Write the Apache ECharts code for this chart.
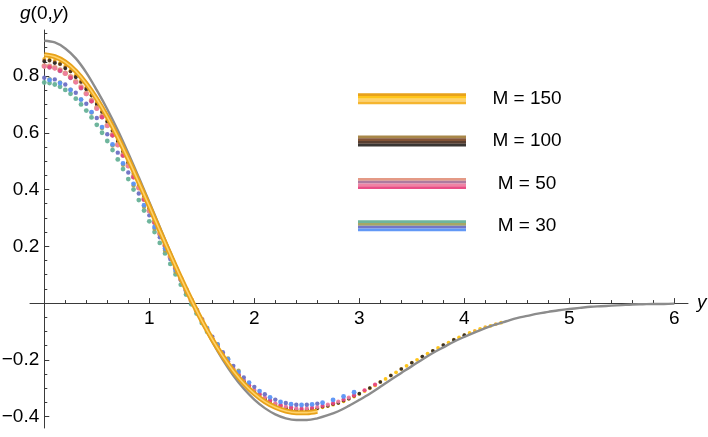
<!DOCTYPE html>
<html>
<head>
<meta charset="utf-8">
<script src="https://cdn.jsdelivr.net/npm/echarts@6/dist/echarts.min.js"></script>
<style>
  html, body { margin: 0; padding: 0; background: #fff; }
  #chart { width: 708px; height: 437px; }
</style>
</head>
<body>
<div id="chart"></div>
<script>
// x positions (y in the plot) used by the sampled curves
var xTenths = [0,0.1,0.2,0.3,0.4,0.5,0.6,0.7,0.8,0.9,1,1.1,1.2,1.3,1.4,1.5,1.6,1.7,1.8,1.9,2,2.1,2.2,2.3,2.4,2.5,2.6,2.7,2.8,2.9,3,3.1,3.2,3.3,3.4,3.5,3.6,3.7,3.8,3.9,4,4.1,4.2,4.3,4.4,4.5,4.6,4.7,4.8,4.9,5,5.1,5.2,5.3,5.4,5.5,5.6,5.7,5.8,5.9,6];
var xOffTenths = [0.05,0.15,0.25,0.35,0.45,0.55,0.65,0.75,0.85,0.95,1.05,1.15,1.25,1.35,1.45,1.55,1.65,1.75,1.85,1.95,2.05,2.15,2.25,2.35,2.45,2.55,2.65,2.75,2.85,2.95,3.05,3.15,3.25,3.35,3.45,3.55,3.65,3.75,3.85,3.95,4.05,4.15,4.25,4.35];
var xTwentieths = [0,0.05,0.1,0.15,0.2,0.25,0.3,0.35,0.4,0.45,0.5,0.55,0.6,0.65,0.7,0.75,0.8,0.85,0.9,0.95,1,1.05,1.1,1.15,1.2,1.25,1.3,1.35,1.4,1.45,1.5,1.55];

// continuum curve (gray)
var grayY = [0.924,0.918,0.897,0.862,0.812,0.750,0.683,0.609,0.528,0.443,0.356,0.268,0.180,0.094,0.011,-0.066,-0.137,-0.200,-0.255,-0.302,-0.340,-0.370,-0.392,-0.406,-0.412,-0.412,-0.406,-0.395,-0.381,-0.362,-0.341,-0.319,-0.295,-0.270,-0.246,-0.222,-0.199,-0.176,-0.156,-0.136,-0.119,-0.103,-0.088,-0.075,-0.064,-0.053,-0.045,-0.037,-0.031,-0.025,-0.021,-0.017,-0.013,-0.011,-0.009,-0.007,-0.005,-0.004,-0.003,-0.003,-0.002];

// M = 150
var m150Band = [0.875,0.868,0.849,0.817,0.773,0.719,0.656,0.585,0.507,0.425,0.341,0.255,0.171,0.089,0.011,-0.062,-0.128,-0.187,-0.239,-0.283,-0.319,-0.347,-0.367,-0.380,-0.386,-0.386,-0.381];
var m150Yellow = [0.859,0.846,0.820,0.783,0.735,0.677,0.611,0.537,0.459,0.377,0.293,0.209,0.127,0.048,-0.026,-0.093,-0.155,-0.209,-0.256,-0.295,-0.326,-0.349,-0.366,-0.375,-0.378,-0.375,-0.367,-0.358,-0.346,-0.329,-0.310,-0.290,-0.267,-0.244,-0.221,-0.200,-0.178,-0.158,-0.139,-0.121,-0.105,-0.091,-0.080,-0.069];
var m150Orange = [0.860,0.854,0.835,0.803,0.760,0.707,0.645,0.575,0.498,0.418,0.335,0.251,0.168,0.087,0.011,-0.060,-0.125,-0.183,-0.233,-0.276,-0.311,-0.339,-0.358,-0.371,-0.377,-0.377,-0.372,-0.363,-0.352,-0.337,-0.320,-0.300,-0.278,-0.255,-0.232,-0.210,-0.189,-0.168,-0.148,-0.129,-0.113,-0.098,-0.085,-0.074];

// M = 100
var m100Olive = [0.854,0.841,0.816,0.779,0.731,0.673,0.607,0.534,0.456,0.375,0.291,0.208,0.127,0.048,-0.026,-0.093,-0.155,-0.209,-0.256,-0.295];
var m100Brown = [0.854,0.848,0.829,0.798,0.755,0.702,0.641,0.571,0.496,0.417,0.334,0.250,0.168,0.087,0.011,-0.060,-0.124,-0.181,-0.231,-0.273,-0.308,-0.336,-0.355,-0.368,-0.374,-0.374];
var m100Dark = [0.855,0.842,0.816,0.779,0.731,0.673,0.607,0.533,0.455,0.374,0.290,0.207,0.126,0.047,-0.026,-0.093,-0.154,-0.208,-0.254,-0.293,-0.324,-0.347,-0.364,-0.373,-0.376,-0.373,-0.365,-0.356,-0.344,-0.327];
var m100Black = [0.851,0.845,0.826,0.795,0.752,0.699,0.638,0.568,0.493,0.414,0.331,0.248,0.166,0.086,0.010,-0.060,-0.125,-0.182,-0.233,-0.275,-0.310,-0.338,-0.357,-0.370,-0.376,-0.376,-0.370,-0.362,-0.352,-0.337,-0.319,-0.299,-0.278,-0.255,-0.232,-0.210,-0.188,-0.168,-0.148,-0.129,-0.113];

// M = 50
var m50Salmon = [0.835,0.834,0.829,0.821,0.810,0.797,0.780,0.761,0.738,0.714,0.687,0.657,0.626,0.593,0.558,0.522,0.484,0.445,0.406,0.366,0.325,0.285,0.244,0.203,0.163,0.124,0.085,0.047,0.010,-0.025,-0.059];
var m50Mauve = [0.829,0.817,0.792,0.756,0.710,0.654,0.590,0.519,0.443,0.364,0.283,0.202,0.123,0.047,-0.025,-0.092,-0.152,-0.205,-0.251,-0.289,-0.320,-0.343,-0.359,-0.368];
var m50Pink = [0.833,0.826,0.808,0.777,0.736,0.684,0.624,0.556,0.482,0.405,0.324,0.243,0.163,0.085,0.010,-0.059,-0.123,-0.180,-0.230,-0.272,-0.306,-0.333,-0.353,-0.365,-0.371,-0.371,-0.366,-0.358,-0.347,-0.333];
var m50Magenta = [0.831,0.819,0.794,0.758,0.711,0.655,0.591,0.520,0.444,0.365,0.284,0.203,0.123,0.047,-0.025,-0.092,-0.152,-0.206,-0.252,-0.290,-0.321,-0.344,-0.360,-0.369,-0.372,-0.369,-0.362,-0.353,-0.340,-0.325,-0.307,-0.287];

// M = 30
var m30Teal = [0.777,0.775,0.770,0.762,0.751,0.737,0.720,0.700,0.678,0.654,0.628,0.600,0.571,0.539,0.506,0.472,0.437,0.400,0.363,0.326,0.288,0.250,0.212,0.175,0.138,0.101,0.065,0.030,-0.004,-0.037,-0.070,-0.101];
var m30Olive = [0.789,0.777,0.752,0.717,0.671,0.617,0.555,0.487,0.414,0.339,0.262,0.185,0.110,0.039,-0.028,-0.090,-0.145,-0.195,-0.238];
var m30Purple = [0.794,0.788,0.770,0.741,0.702,0.652,0.595,0.530,0.460,0.386,0.309,0.232,0.155,0.081,0.010,-0.057,-0.118,-0.173,-0.221,-0.262,-0.295,-0.321,-0.340,-0.352,-0.358,-0.358,-0.354];
var m30Blue = [0.786,0.775,0.751,0.717,0.673,0.620,0.559,0.492,0.420,0.345,0.268,0.192,0.117,0.045,-0.024,-0.088,-0.146,-0.198,-0.243,-0.280,-0.310,-0.332,-0.348,-0.356,-0.359,-0.357,-0.351,-0.341,-0.329,-0.314];

// ticks and legend text
var xMajorTicks = [1, 2, 3, 4, 5, 6];
var xMinorTicks = [0.2,0.4,0.6,0.8,1.2,1.4,1.6,1.8,2.2,2.4,2.6,2.8,3.2,3.4,3.6,3.8,4.2,4.4,4.6,4.8,5.2,5.4,5.6,5.8];
var yMajorTicks = [-0.4, -0.2, 0.2, 0.4, 0.6, 0.8];
var yMinorTicks = [-0.35,-0.3,-0.25,-0.15,-0.1,-0.05,0.05,0.1,0.15,0.25,0.3,0.35,0.45,0.5,0.55,0.65,0.7,0.75,0.85,0.9,0.95];
var groupLabels = ['M = 150', 'M = 100', 'M = 50', 'M = 30'];

var FONT = '"Liberation Sans", Arial, sans-serif';
var axisColor = '#3a3a3a';

// plot area and axis extents
var X_MIN = -0.136, X_MAX = 6.13, Y_MIN = -0.44, Y_MAX = 0.962;
var PLOT = { left: 30, top: 30, width: 658, height: 398 };
// pixel position of the zero lines, where the axes cross
var zeroX = PLOT.left + PLOT.width * (0 - X_MIN) / (X_MAX - X_MIN);
var zeroY = PLOT.top + PLOT.height * (Y_MAX - 0) / (Y_MAX - Y_MIN);

function pts(xs, ys) {
    return ys.map(function(v, i) { return [xs[i], v]; });
}

function dots(name, xs, ys, color, size) {
    return {
        name: name, type: 'scatter', data: pts(xs, ys),
        symbol: 'circle', symbolSize: size,
        itemStyle: { color: color, opacity: 0.95 }
    };
}

function curve(name, xs, ys, color, width) {
    return {
        name: name, type: 'line', data: pts(xs, ys),
        symbol: 'none', smooth: 0.35,
        lineStyle: { color: color, width: width },
        itemStyle: { color: color }
    };
}

var series = [
    curve('continuum', xTenths, grayY, '#8c8c8c', 2.4),
    curve('M150 band', xTenths, m150Band, '#e8a21a', 5),
    curve('M150 core', xTenths, m150Band, '#ffd36b', 1.6),
    dots('M150 orange', xTenths, m150Orange, '#f4b124', 3.8),
    dots('M150 yellow', xOffTenths, m150Yellow, '#ffc20e', 3.8),
    dots('M100 olive', xOffTenths, m100Olive, '#a3823f', 3.8),
    dots('M100 brown', xTenths, m100Brown, '#7b4a2b', 3.8),
    dots('M100 dark', xOffTenths, m100Dark, '#4f3526', 3.6),
    dots('M100 black', xTenths, m100Black, '#2e2b28', 3.6),
    dots('M50 salmon', xTwentieths, m50Salmon, '#e3957f', 5.5),
    dots('M50 mauve', xOffTenths, m50Mauve, '#a9739a', 4.2),
    dots('M50 pink', xTenths, m50Pink, '#ee7b9f', 4.2),
    dots('M50 magenta', xOffTenths, m50Magenta, '#e8467f', 4.2),
    dots('M30 teal', xTwentieths, m30Teal, '#66b197', 4.8),
    dots('M30 olive', xOffTenths, m30Olive, '#a2a25c', 4.4),
    dots('M30 purple', xTenths, m30Purple, '#6b70c4', 4.4),
    dots('M30 blue', xOffTenths, m30Blue, '#5a92f6', 4.8)
];

// striped legend swatches: one legend per stripe
var legendGroups = [
    ['M150 band', 'M150 yellow', 'M150 core', 'M150 orange'],
    ['M100 olive', 'M100 brown', 'M100 dark', 'M100 black'],
    ['M50 salmon', 'M50 mauve', 'M50 pink', 'M50 magenta'],
    ['M30 teal', 'M30 olive', 'M30 purple', 'M30 blue']
];
var legendTops = [93.3, 135.6, 177.9, 220.2];
var stripeH = 2.75;

var legends = [];
var titles = [];
legendGroups.forEach(function(names, g) {
    names.forEach(function(n, s) {
        legends.push({
            data: [n], left: 358, top: legendTops[g] + s * stripeH,
            padding: 0, itemWidth: 108, itemHeight: stripeH, itemGap: 0,
            icon: 'rect', selectedMode: false,
            formatter: function() { return ''; },
            textStyle: { fontSize: 1, lineHeight: 1 }
        });
    });
    titles.push({
        text: groupLabels[g], left: 527, top: legendTops[g] - 4,
        textAlign: 'center', padding: 0,
        textStyle: { fontSize: 19, fontWeight: 'normal', color: '#000', fontFamily: FONT }
    });
});

var hiddenAxis = function(grid, min, max) {
    return { type: 'value', gridIndex: grid, min: min, max: max, show: false };
};

var chart = echarts.init(document.getElementById('chart'), null, { renderer: 'canvas' });

var options = {
    animation: false,
    backgroundColor: '#fff',
    title: titles,
    legend: legends,
    grid: [
        // data area
        { left: PLOT.left, top: PLOT.top, width: PLOT.width, height: PLOT.height, outerBoundsMode: 'none' },
        // horizontal axis drawn along y = 0
        { left: PLOT.left, top: PLOT.top, width: PLOT.width, height: zeroY - PLOT.top, outerBoundsMode: 'none' },
        // vertical axis drawn along x = 0
        { left: zeroX, top: PLOT.top, width: PLOT.left + PLOT.width - zeroX, height: PLOT.height, outerBoundsMode: 'none' }
    ],
    xAxis: [
        hiddenAxis(0, X_MIN, X_MAX),
        {
            type: 'value', gridIndex: 1, min: X_MIN, max: X_MAX, position: 'bottom',
            axisLine: { onZero: false, lineStyle: { color: axisColor, width: 1 } },
            axisTick: { inside: true, length: 5, customValues: xMajorTicks, lineStyle: { color: axisColor } },
            axisLabel: { customValues: xMajorTicks, margin: 6, color: '#000', fontSize: 19, fontFamily: FONT },
            splitLine: { show: false },
            name: 'y', nameLocation: 'end', nameGap: 9,
            nameTextStyle: { fontStyle: 'italic', fontSize: 19, color: '#000', fontFamily: FONT }
        }, {
            type: 'value', gridIndex: 1, min: X_MIN, max: X_MAX, position: 'bottom',
            axisLine: { show: false, onZero: false },
            axisTick: { inside: true, length: 3, customValues: xMinorTicks, lineStyle: { color: axisColor } },
            axisLabel: { show: false },
            splitLine: { show: false }
        },
        hiddenAxis(2, 0, 1)
    ],
    yAxis: [
        hiddenAxis(0, Y_MIN, Y_MAX),
        hiddenAxis(1, 0, 1),
        {
            type: 'value', gridIndex: 2, min: Y_MIN, max: Y_MAX, position: 'left',
            axisLine: { show: true, onZero: false, lineStyle: { color: axisColor, width: 1 } },
            axisTick: { show: true, inside: true, length: 5, customValues: yMajorTicks, lineStyle: { color: axisColor } },
            axisLabel: {
                customValues: yMajorTicks, margin: 5, color: '#000', fontSize: 19, fontFamily: FONT,
                formatter: function(v) { return (v < 0 ? '\u2212' : '') + Math.abs(v).toFixed(1); }
            },
            splitLine: { show: false },
            name: '{i|g}(0,{i|y})', nameLocation: 'end', nameGap: 7,
            nameTextStyle: {
                fontSize: 19, color: '#000', fontFamily: FONT,
                rich: { i: { fontStyle: 'italic', fontSize: 19, color: '#000', fontFamily: FONT } }
            }
        }, {
            type: 'value', gridIndex: 2, min: Y_MIN, max: Y_MAX, position: 'left',
            axisLine: { show: false, onZero: false },
            axisTick: { show: true, inside: true, length: 3, customValues: yMinorTicks, lineStyle: { color: axisColor } },
            axisLabel: { show: false },
            splitLine: { show: false }
        }
    ],
    series: series
};

chart.setOption(options);
</script>
</body>
</html>
